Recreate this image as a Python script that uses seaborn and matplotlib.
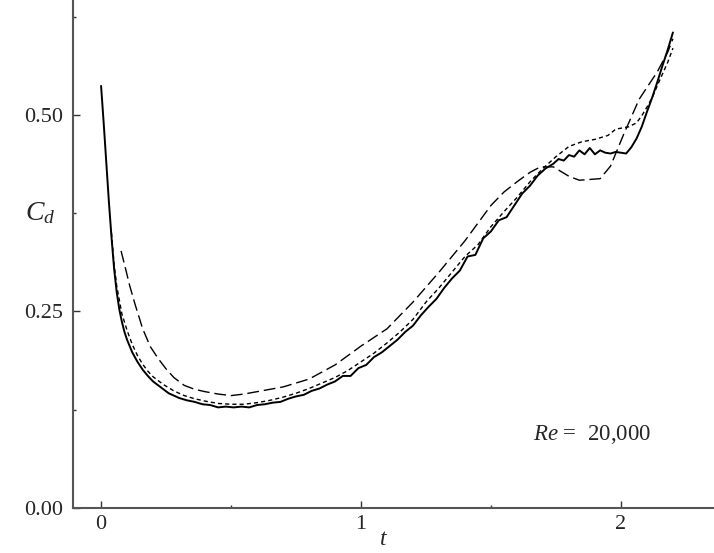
import numpy as np
import pandas as pd
import matplotlib
matplotlib.use('Agg')
import matplotlib.pyplot as plt
import seaborn as sns

# drag coefficient history, three runs at Re = 20,000
t_solid = [0.00, 0.01, 0.02, 0.03, 0.04, 0.05, 0.06, 0.07, 0.08, 0.09, 0.10, 0.12, 0.14, 0.16,
           0.18, 0.20, 0.22, 0.24, 0.26, 0.28, 0.30, 0.33, 0.36, 0.39, 0.42, 0.45, 0.48, 0.51,
           0.54, 0.57, 0.60, 0.63, 0.66, 0.69, 0.72, 0.75, 0.78, 0.81, 0.84, 0.87, 0.90, 0.93,
           0.96, 0.99, 1.02, 1.05, 1.08, 1.11, 1.14, 1.17, 1.20, 1.23, 1.26, 1.29, 1.32, 1.35,
           1.38, 1.41, 1.44, 1.47, 1.50, 1.53, 1.56, 1.59, 1.62, 1.65, 1.68, 1.71, 1.74, 1.76,
           1.78, 1.80, 1.82, 1.84, 1.86, 1.88, 1.90, 1.92, 1.94, 1.96, 1.98, 2.00, 2.02, 2.04,
           2.06, 2.08, 2.10, 2.12, 2.14, 2.16, 2.18, 2.20]
cd_solid = [0.537, 0.49, 0.44, 0.39, 0.345, 0.305, 0.275, 0.253, 0.237, 0.224, 0.214, 0.198, 0.186,
            0.176, 0.168, 0.161, 0.156, 0.151, 0.146, 0.143, 0.140, 0.137, 0.135, 0.132, 0.131,
            0.128, 0.129, 0.128, 0.129, 0.128, 0.131, 0.132, 0.134, 0.135, 0.139, 0.142, 0.144,
            0.149, 0.152, 0.157, 0.161, 0.168, 0.168, 0.178, 0.182, 0.192, 0.198, 0.206, 0.214,
            0.224, 0.232, 0.245, 0.256, 0.266, 0.280, 0.292, 0.302, 0.320, 0.322, 0.343, 0.352,
            0.366, 0.370, 0.385, 0.400, 0.410, 0.423, 0.432, 0.438, 0.444, 0.442, 0.449, 0.447,
            0.455, 0.450, 0.458, 0.450, 0.455, 0.452, 0.451, 0.453, 0.452, 0.451, 0.459, 0.470,
            0.485, 0.504, 0.522, 0.542, 0.563, 0.583, 0.605]

t_short = [0.04, 0.05, 0.06, 0.08, 0.10, 0.12, 0.14, 0.16, 0.18, 0.20, 0.24, 0.28, 0.32, 0.36,
           0.40, 0.45, 0.50, 0.55, 0.60, 0.65, 0.70, 0.75, 0.80, 0.85, 0.90, 0.95, 1.00, 1.05,
           1.10, 1.15, 1.20, 1.25, 1.30, 1.35, 1.40, 1.45, 1.50, 1.55, 1.60, 1.65, 1.70, 1.75,
           1.80, 1.85, 1.90, 1.95, 1.98, 2.03, 2.06, 2.08, 2.10, 2.12, 2.15, 2.18, 2.20]
cd_short = [0.35, 0.31, 0.283, 0.247, 0.226, 0.208, 0.194, 0.183, 0.174, 0.167, 0.157, 0.149,
            0.143, 0.139, 0.136, 0.133, 0.132, 0.132, 0.134, 0.137, 0.141, 0.146, 0.152, 0.159,
            0.166, 0.175, 0.186, 0.197, 0.210, 0.224, 0.240, 0.262, 0.280, 0.300, 0.320, 0.335,
            0.358, 0.377, 0.395, 0.415, 0.432, 0.447, 0.460, 0.466, 0.469, 0.474, 0.482, 0.485,
            0.490, 0.499, 0.510, 0.522, 0.545, 0.567, 0.585]

t_long = [0.077, 0.09, 0.11, 0.13, 0.16, 0.19, 0.22, 0.25, 0.28, 0.32, 0.36, 0.40, 0.45, 0.50,
          0.55, 0.60, 0.70, 0.80, 0.90, 1.00, 1.10, 1.20, 1.30, 1.40, 1.50, 1.55, 1.60, 1.65,
          1.69, 1.74, 1.80, 1.84, 1.92, 1.96, 2.01, 2.07, 2.14, 2.18, 2.20]
cd_long = [0.327, 0.31, 0.283, 0.26, 0.228, 0.205, 0.19, 0.177, 0.166, 0.156, 0.151, 0.148, 0.145,
           0.143, 0.145, 0.148, 0.154, 0.164, 0.182, 0.206, 0.228, 0.262, 0.300, 0.340, 0.385,
           0.402, 0.415, 0.427, 0.434, 0.434, 0.422, 0.417, 0.419, 0.435, 0.475, 0.520, 0.555,
           0.580, 0.597]

df = pd.concat([
    pd.DataFrame({'t': t_solid, 'Cd': cd_solid, 'run': 'a'}),
    pd.DataFrame({'t': t_short, 'Cd': cd_short, 'run': 'b'}),
    pd.DataFrame({'t': t_long, 'Cd': cd_long, 'run': 'c'}),
])

sns.set_style('ticks')
plt.rcParams['font.family'] = ['Liberation Serif', 'DejaVu Serif']
plt.rcParams['mathtext.fontset'] = 'custom'
plt.rcParams['mathtext.rm'] = 'Liberation Serif'
plt.rcParams['mathtext.it'] = 'Liberation Serif:italic'

fig = plt.figure(figsize=(7.14, 5.53), dpi=100)
ax = fig.add_axes([73 / 714, 45 / 553, 641 / 714, 508 / 553])

sns.lineplot(data=df, x='t', y='Cd', style='run', units='run', estimator=None,
             sort=False, color='black', legend=False, ax=ax,
             dashes={'a': '', 'b': (3, 2.2), 'c': (8.5, 3.5)})
for line, lw in zip(ax.lines, [1.4, 1.0, 1.0]):
    line.set_linewidth(lw)

ax.set_xlim(-0.108, 2.358)
ax.set_ylim(0, 0.6463)
ax.set_xticks([0, 1, 2])
ax.set_xticks([0.5, 1.5], minor=True)
ax.set_xticklabels(['0', '1', '2'])
ax.set_yticks([0.0, 0.25, 0.5])
ax.set_yticks([0.125, 0.375, 0.625], minor=True)
ax.set_yticklabels(['0.00', '0.25', '0.50'])
ax.tick_params(which='both', direction='in', labelsize=16, color='#333333')
ax.tick_params(which='major', length=5, width=1)
ax.tick_params(which='minor', length=2.5, width=1)
ax.tick_params(axis='y', pad=7)
ax.tick_params(axis='x', pad=5)

sns.despine(ax=ax)
for s in ['left', 'bottom']:
    ax.spines[s].set_color('#555555')
    ax.spines[s].set_linewidth(1.5)

ax.set_xlabel('$t$', fontsize=17)
ax.set_ylabel('$C_d$', fontsize=20, rotation=0)
ax.xaxis.set_label_coords(0.484, -0.042)
ax.yaxis.set_label_coords(-0.052, 0.555)

ax.text(1.66, 0.094, r'$Re$ =  20,000', fontsize=16.5, va='center', ha='left')

fig.savefig('out.png', dpi=100)
